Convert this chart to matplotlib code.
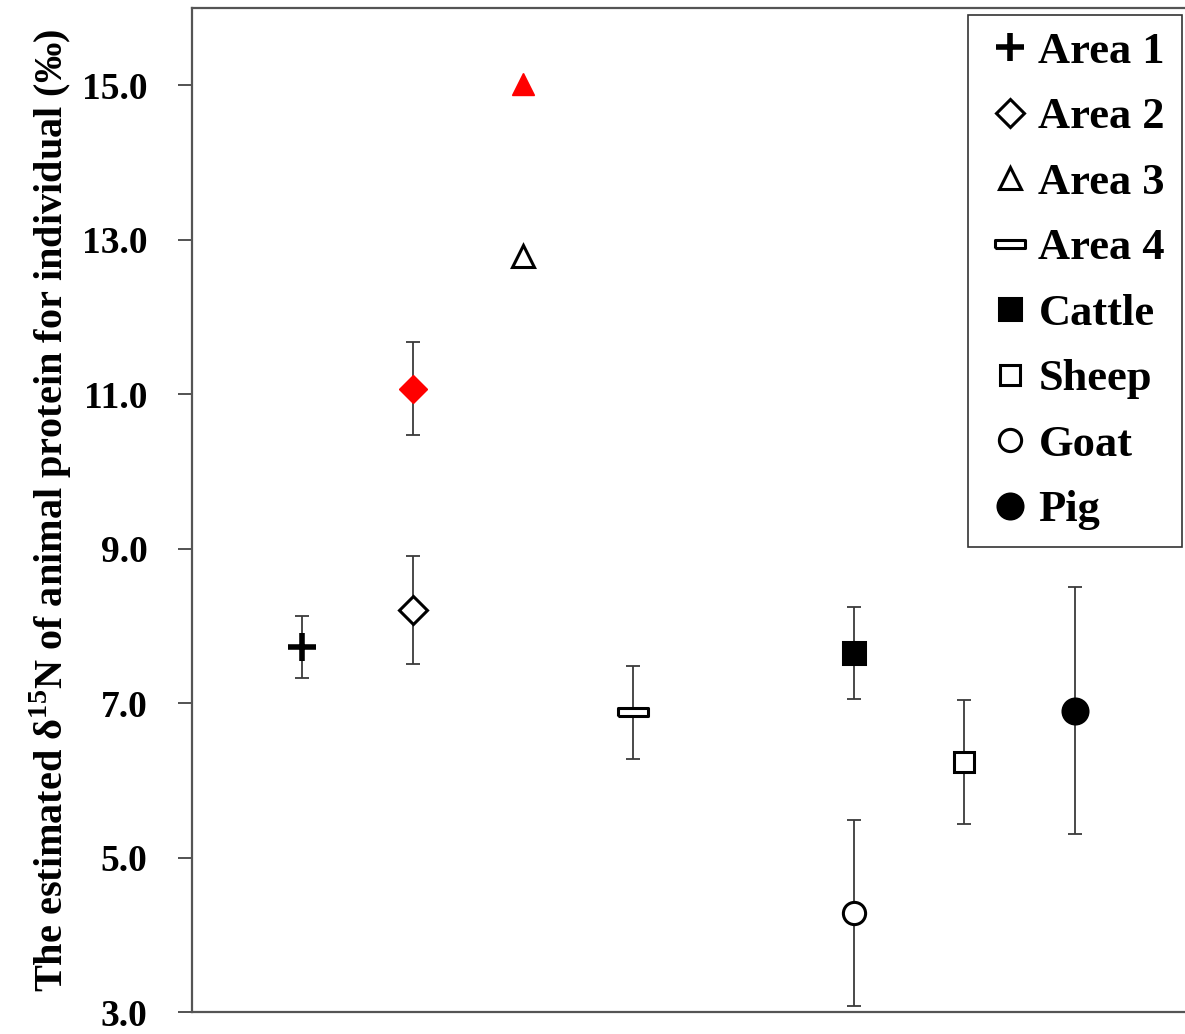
import matplotlib
matplotlib.use("Agg")
import matplotlib.pyplot as plt
from matplotlib.lines import Line2D

plt.rcParams['font.family'] = ['Liberation Serif', 'DejaVu Serif']
plt.rcParams['font.weight'] = 'bold'
plt.rcParams['axes.labelweight'] = 'bold'
plt.rcParams['mathtext.fontset'] = 'custom'
plt.rcParams['mathtext.rm'] = 'Liberation Serif:bold'
plt.rcParams['mathtext.bf'] = 'Liberation Serif:bold'

# group means and SDs of estimated d15N
labels = ['Area 1', 'Area 2', 'Area 3', 'Area 4', 'Cattle', 'Sheep', 'Goat', 'Pig']
xpos = [1, 2, 3, 4, 6, 7, 6, 8]
means = [7.73, 8.2, 12.79, 6.88, 7.65, 6.24, 4.28, 6.9]
sds = [0.4, 0.7, 0.0, 0.6, 0.6, 0.8, 1.2, 1.6]
markers = ['+', 'D', '^', 'rect', 's', 's', 'o', 'o']
filled = [True, False, False, False, True, False, False, True]
msizes = [20, 14, 16, 21, 16, 15, 16, 18]

# red points (second estimate for Area 2 and Area 3)
red_x = [2, 3]
red_means = [11.07, 15.02]
red_sds = [0.6, 0.0]
red_markers = ['D', '^']

rect = [(-1, -0.28), (1, -0.28), (1, 0.28), (-1, 0.28), (-1, -0.28)]

fig = plt.figure(figsize=(11.85, 10.34), dpi=100)
ax = fig.add_axes([192 / 1185, 1 - 1012 / 1034, 1 - 192 / 1185, (1012 - 8) / 1034])

err_kw = dict(fmt='none', ecolor='#3a3a3a', elinewidth=1.3, capsize=4.7, capthick=1.3, zorder=2)
for x, m, s in zip(xpos, means, sds):
    if s > 0:
        ax.errorbar(x, m, yerr=s, **err_kw)
for x, m, s in zip(red_x, red_means, red_sds):
    if s > 0:
        ax.errorbar(x, m, yerr=s, **err_kw)

handles = []
for lab, x, m, mk, f, ms in zip(labels, xpos, means, markers, filled, msizes):
    marker = rect if mk == 'rect' else mk
    kw = dict(marker=marker, markersize=ms, linestyle='none', color='black',
              markeredgecolor='black', markeredgewidth=2.2 if mk != '+' else 4,
              markerfacecolor='black' if f else 'white')
    ax.plot([x], [m], zorder=3, **kw)
    handles.append(Line2D([], [], label=lab, **kw))

for x, m, mk in zip(red_x, red_means, red_markers):
    ax.plot([x], [m], marker=mk, markersize=14 if mk == 'D' else 16, linestyle='none',
            color='red', markeredgecolor='red', zorder=3)

ax.set_xlim(0, 9)
ax.set_ylim(3, 16)
ax.set_yticks([3, 5, 7, 9, 11, 13, 15])
ax.set_yticklabels(['3.0', '5.0', '7.0', '9.0', '11.0', '13.0', '15.0'])
ax.set_xticks([])
ax.tick_params(axis='y', length=10, width=1.3, color='#444444', pad=22, labelsize=27)

for side in ['left', 'bottom', 'top']:
    ax.spines[side].set_color('#555555')
    ax.spines[side].set_linewidth(1.6)
ax.spines['right'].set_visible(False)

ax.set_ylabel('The estimated δ$^{15}$N of animal protein for individual (‰)',
              fontsize=29, fontweight='bold', labelpad=6)

leg = ax.legend(handles=handles, loc='upper right', bbox_to_anchor=(1182 / 1185, 1 - 15 / 1034),
                bbox_transform=fig.transFigure, borderaxespad=0, fontsize=32,
                frameon=True, fancybox=False, edgecolor='black', handlelength=1.1,
                handletextpad=0.1, borderpad=0.38, labelspacing=0.57)
leg.get_frame().set_linewidth(1.2)

fig.savefig('out.png', dpi=100)
